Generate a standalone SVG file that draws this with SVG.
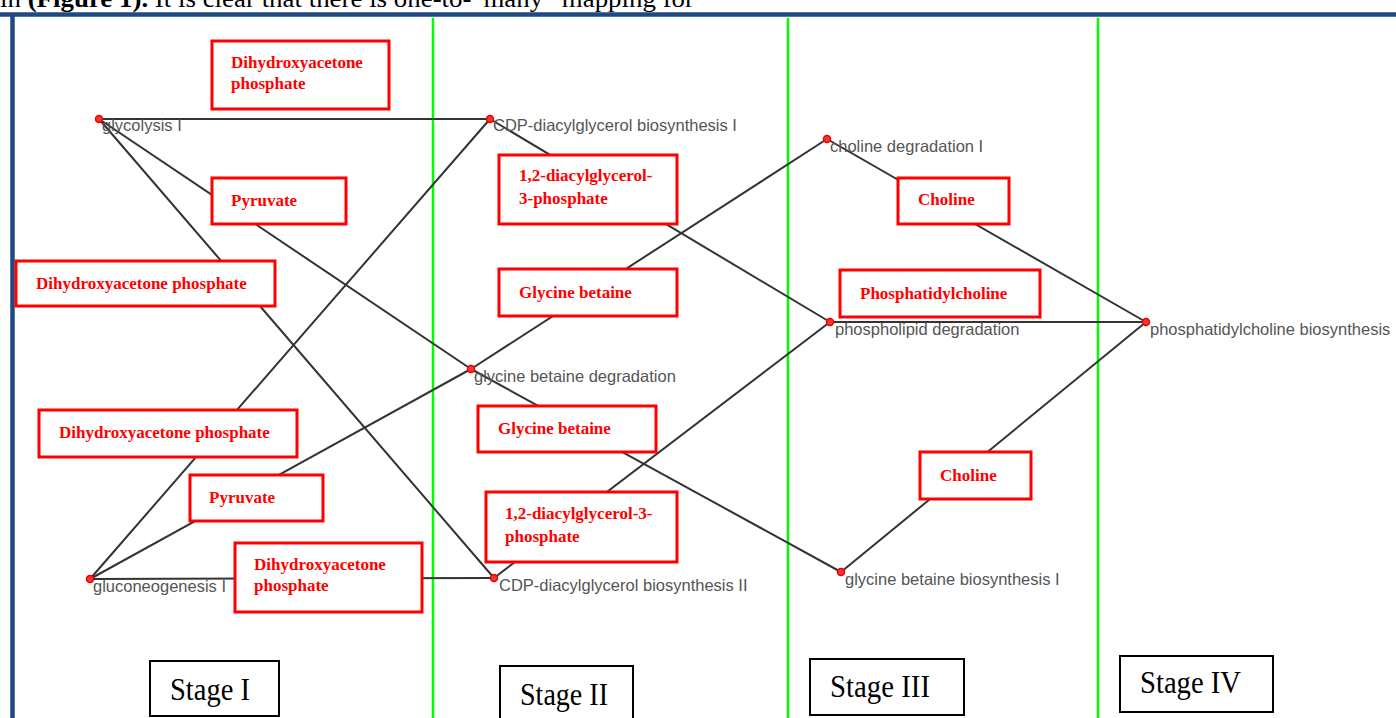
<svg xmlns="http://www.w3.org/2000/svg" width="1396" height="718" viewBox="0 0 1396 718">
<style>
.edge{stroke:#333;stroke-width:2;fill:none}
.lbox{fill:#fff;stroke:#f00;stroke-width:3}
.ltxt{font-family:"Liberation Serif",serif;font-weight:bold;font-size:17px;fill:#f00}
.ntxt{font-family:"Liberation Sans",Arial,sans-serif;font-size:16.5px;fill:#555}
.dot{fill:#f33;stroke:#e00;stroke-width:1.5}
.sbox{fill:#fff;stroke:#000;stroke-width:2}
.stxt{font-family:"Liberation Serif",serif;font-size:31px;fill:#000}
.div{stroke:#0f0;stroke-width:2.5}
</style>
<rect width="1396" height="718" fill="#fff"/>
<text x="0" y="7" font-family="Liberation Serif,serif" font-size="25" fill="#000" textLength="694" lengthAdjust="spacingAndGlyphs">in <tspan font-weight="bold">(Figure 1).</tspan> It is clear that there is one-to-“many” mapping for</text>
<g id="frame">
<line x1="0" y1="14.5" x2="1396" y2="14.5" stroke="#204A7E" stroke-width="4.5"/>
<line x1="12.5" y1="13" x2="12.5" y2="718" stroke="#204A7E" stroke-width="4.5"/>
</g>
<g id="dividers">
<line class="div" x1="433" y1="18" x2="433" y2="718"/>
<line class="div" x1="788" y1="18" x2="788" y2="718"/>
<line class="div" x1="1098" y1="18" x2="1098" y2="718"/>
</g>
<g id="connectors">
<line class="edge" x1="99" y1="119" x2="490" y2="119"/>
<line class="edge" x1="99" y1="119" x2="471" y2="369"/>
<line class="edge" x1="99" y1="119" x2="494" y2="578"/>
<line class="edge" x1="90" y1="579" x2="490" y2="119"/>
<line class="edge" x1="90" y1="579" x2="471" y2="369"/>
<line class="edge" x1="90" y1="579" x2="494" y2="578"/>
<line class="edge" x1="490" y1="119" x2="830" y2="322"/>
<line class="edge" x1="471" y1="369" x2="827" y2="139"/>
<line class="edge" x1="471" y1="369" x2="841" y2="572"/>
<line class="edge" x1="494" y1="578" x2="830" y2="322"/>
<line class="edge" x1="827" y1="139" x2="1146" y2="322"/>
<line class="edge" x1="830" y1="322" x2="1146" y2="322"/>
<line class="edge" x1="841" y1="572" x2="1146" y2="322"/>
</g>
<g id="edge-labels">
<g id="el-dhap-1"><rect class="lbox" x="212" y="41" width="177" height="68"/><text class="ltxt" x="231" y="68">Dihydroxyacetone</text><text class="ltxt" x="231" y="89">phosphate</text></g>
<g id="el-pyruvate-1"><rect class="lbox" x="212" y="178" width="134" height="46"/><text class="ltxt" x="231" y="206">Pyruvate</text></g>
<g id="el-dhap-2"><rect class="lbox" x="16" y="261" width="259" height="45"/><text class="ltxt" x="36" y="289">Dihydroxyacetone phosphate</text></g>
<g id="el-dhap-3"><rect class="lbox" x="39" y="410" width="258" height="47"/><text class="ltxt" x="59" y="438">Dihydroxyacetone phosphate</text></g>
<g id="el-pyruvate-2"><rect class="lbox" x="190" y="475" width="133" height="46"/><text class="ltxt" x="209" y="503">Pyruvate</text></g>
<g id="el-dhap-4"><rect class="lbox" x="235" y="543" width="187" height="69"/><text class="ltxt" x="254" y="570">Dihydroxyacetone</text><text class="ltxt" x="254" y="591">phosphate</text></g>
<g id="el-dag-1"><rect class="lbox" x="499" y="155" width="178" height="69"/><text class="ltxt" x="519" y="181">1,2-diacylglycerol-</text><text class="ltxt" x="519" y="204">3-phosphate</text></g>
<g id="el-gb-1"><rect class="lbox" x="499" y="269" width="178" height="47"/><text class="ltxt" x="519" y="298">Glycine betaine</text></g>
<g id="el-gb-2"><rect class="lbox" x="478" y="406" width="178" height="46"/><text class="ltxt" x="498" y="434">Glycine betaine</text></g>
<g id="el-dag-2"><rect class="lbox" x="486" y="492" width="191" height="70"/><text class="ltxt" x="505" y="519">1,2-diacylglycerol-3-</text><text class="ltxt" x="505" y="542">phosphate</text></g>
<g id="el-choline-1"><rect class="lbox" x="898" y="178" width="111" height="46"/><text class="ltxt" x="918" y="205">Choline</text></g>
<g id="el-pc"><rect class="lbox" x="840" y="270" width="200" height="47"/><text class="ltxt" x="860" y="299">Phosphatidylcholine</text></g>
<g id="el-choline-2"><rect class="lbox" x="920" y="452" width="111" height="47"/><text class="ltxt" x="940" y="481">Choline</text></g>
</g>
<g id="n-glycolysis"><circle class="dot" cx="99" cy="119" r="3.5"/><text class="ntxt" x="102" y="131">glycolysis I</text></g>
<g id="n-cdp1"><circle class="dot" cx="490" cy="119" r="3.5"/><text class="ntxt" x="493" y="131">CDP-diacylglycerol biosynthesis I</text></g>
<g id="n-choline-deg"><circle class="dot" cx="827" cy="139" r="3.5"/><text class="ntxt" x="830" y="152">choline degradation I</text></g>
<g id="n-phospholipid"><circle class="dot" cx="830" cy="322" r="3.5"/><text class="ntxt" x="835" y="335">phospholipid degradation</text></g>
<g id="n-pc-bio"><circle class="dot" cx="1146" cy="322" r="3.5"/><text class="ntxt" x="1150" y="335">phosphatidylcholine biosynthesis</text></g>
<g id="n-gb-deg"><circle class="dot" cx="471" cy="369" r="3.5"/><text class="ntxt" x="474" y="382">glycine betaine degradation</text></g>
<g id="n-gluconeo"><circle class="dot" cx="90" cy="579" r="3.5"/><text class="ntxt" x="93" y="592">gluconeogenesis I</text></g>
<g id="n-cdp2"><circle class="dot" cx="494" cy="578" r="3.5"/><text class="ntxt" x="499" y="591">CDP-diacylglycerol biosynthesis II</text></g>
<g id="n-gb-bio"><circle class="dot" cx="841" cy="572" r="3.5"/><text class="ntxt" x="845" y="585">glycine betaine biosynthesis I</text></g>
<g id="stages">
<g id="stage-1"><rect class="sbox" x="150" y="661" width="129" height="55"/><text class="stxt" x="170" y="700" textLength="80" lengthAdjust="spacingAndGlyphs">Stage I</text></g>
<g id="stage-2"><rect class="sbox" x="500" y="666" width="133" height="53"/><text class="stxt" x="520" y="705" textLength="88" lengthAdjust="spacingAndGlyphs">Stage II</text></g>
<g id="stage-3"><rect class="sbox" x="810" y="659" width="154" height="56"/><text class="stxt" x="830" y="697" textLength="100" lengthAdjust="spacingAndGlyphs">Stage III</text></g>
<g id="stage-4"><rect class="sbox" x="1120" y="656" width="153" height="56"/><text class="stxt" x="1140" y="693" textLength="101" lengthAdjust="spacingAndGlyphs">Stage IV</text></g>
</g>
</svg>
